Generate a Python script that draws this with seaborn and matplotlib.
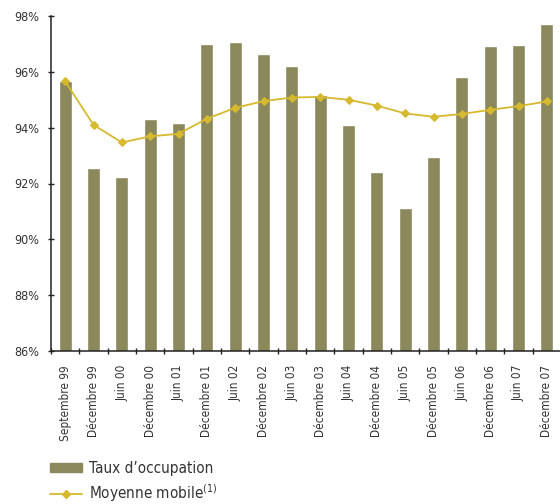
import matplotlib
matplotlib.use("Agg")
import matplotlib.pyplot as plt
from matplotlib.patches import Patch
from matplotlib.lines import Line2D
from matplotlib.ticker import FixedLocator, FuncFormatter
import numpy as np
import pandas as pd
import seaborn as sns

periods = ["Septembre 99", "Décembre 99", "Juin 00", "Décembre 00", "Juin 01",
           "Décembre 01", "Juin 02", "Décembre 02", "Juin 03", "Décembre 03",
           "Juin 04", "Décembre 04", "Juin 05", "Décembre 05", "Juin 06",
           "Décembre 06", "Juin 07", "Décembre 07"]
occupancy = [95.67, 92.55, 92.23, 94.31, 94.17, 97.00, 97.07, 96.64, 96.20,
             95.17, 94.10, 92.41, 91.12, 92.95, 95.81, 96.92, 96.96, 97.71]
moving_avg = [95.66, 94.10, 93.47, 93.69, 93.78, 94.32, 94.71, 94.95, 95.08,
              95.10, 95.00, 94.79, 94.51, 94.39, 94.49, 94.64, 94.77, 94.94]
y_ticks = [86, 88, 90, 92, 94, 96, 98]

BAR = "#8b885b"
LINE = "#d6b92e"
TEXT = "#333333"

sns.set_style("white")
plt.rcParams["font.family"] = ["DejaVu Sans"]
plt.rcParams["font.stretch"] = "condensed"
plt.rcParams["mathtext.fontset"] = "dejavusans"

df = pd.DataFrame({"periode": periods, "taux": occupancy, "moyenne": moving_avg})

fig = plt.figure(figsize=(5.6, 5.04), dpi=100)
ax = fig.add_axes([51 / 560, 153 / 504, 510 / 560, 335 / 504])

sns.barplot(data=df, x="periode", y="taux", color=BAR, width=0.45,
            saturation=1, ax=ax)
sns.lineplot(x=np.arange(len(periods)), y=df["moyenne"], color=LINE,
             marker="D", markersize=4.5, markeredgecolor=LINE, linewidth=1.3,
             ax=ax)

ax.set_xlim(-0.5, len(periods) - 0.5)
ax.set_ylim(86, 98)
ax.set_yticks(y_ticks)
ax.yaxis.set_major_formatter(FuncFormatter(lambda v, _: f"{v:.0f}%"))
ax.set_xlabel("")
ax.set_ylabel("")

ax.set_xticks(range(len(periods)))
ax.set_xticklabels(periods, rotation=90, fontsize=8.5, color=TEXT, va="top")
ax.xaxis.set_minor_locator(FixedLocator(np.arange(-0.5, len(periods), 1.0)))
ax.tick_params(axis="x", which="major", length=0, pad=10)
ax.tick_params(axis="x", which="minor", length=5, width=1, direction="inout",
               color="#222222", bottom=True)
ax.tick_params(axis="y", which="major", length=5, width=1, direction="inout",
               color="#222222", labelsize=9, labelcolor=TEXT, pad=6, left=True)

for side in ("top", "right"):
    ax.spines[side].set_visible(False)
for side in ("left", "bottom"):
    ax.spines[side].set_color("#222222")
    ax.spines[side].set_linewidth(1.1)

handles = [
    Patch(facecolor=BAR, edgecolor=BAR),
    Line2D([0], [0], color=LINE, marker="D", markersize=4.5, linewidth=1.3),
]
labels = ["Taux d\u2019occupation", r"Moyenne mobile$^{(1)}$"]
fig.legend(handles, labels, loc="lower left", bbox_to_anchor=(36 / 560, -14 / 504),
           frameon=False, fontsize=11, labelcolor=TEXT, handlelength=2.1,
           handleheight=0.55, handletextpad=0.5, labelspacing=0.42)

fig.savefig("out.png", dpi=100)
